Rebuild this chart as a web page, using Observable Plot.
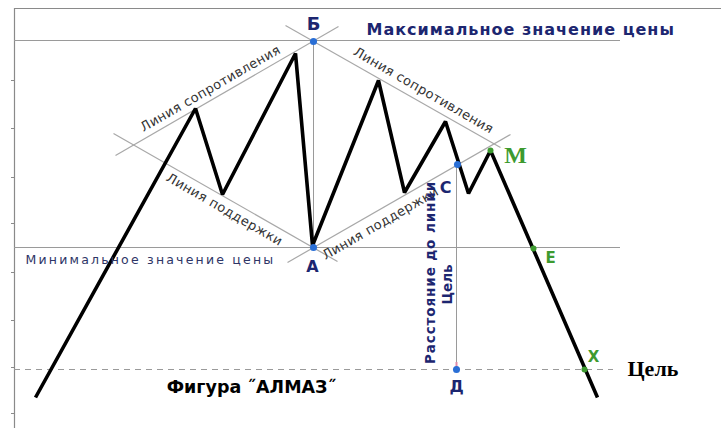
<!DOCTYPE html>
<html><head><meta charset="utf-8">
<script src="https://cdn.jsdelivr.net/npm/d3@7"></script>
<script src="https://cdn.jsdelivr.net/npm/@observablehq/plot@0.6"></script>
<style>html,body{margin:0;padding:0;background:#fff;}</style>
</head><body><div id="chart"></div>
<script>
// time (x) and price (y) values
const priceT = [35, 195, 222, 295, 312, 378, 404, 445, 468, 490, 597];
const priceP = [31, 320, 234, 375, 183, 348, 236, 307, 235, 278, 31];

const maxPrice = 388, minPrice = 181, targetPrice = 59;
const levelStart = 14, levelEnd = 620, targetEnd = 613;

const keyNames = ["Б", "А", "С", "Д", "M", "E", "X"];
const keyT = [313, 313, 457, 456, 490, 533, 584];
const keyP = [387, 181, 264, 59, 278, 180, 59];
const keyGroup = ["blue", "blue", "blue", "blue", "green", "green", "green"];

// trend lines
const trendNames = ["Линия сопротивления", "Линия поддержки", "Линия сопротивления", "Линия поддержки"];
const trendT1 = [115, 113, 285, 287];
const trendP1 = [273, 295, 403, 166];
const trendT2 = [338, 337, 500, 510];
const trendP2 = [402, 167, 281, 294];
const trendLabelT = [210, 224, 423, 380];
const trendLabelP = [340, 219, 338, 205];
const trendAngle = [-30, 30, 30, -30];

const vertT = [313, 456];
const vertP1 = [387, 264];
const vertP2 = [181, 59];

const frameTicks = [348, 300, 251, 205, 156, 108, 61, 15];

const keyLabelT = [313, 312, 445, 456, 515, 550, 593];
const keyLabelP = [404, 162, 241, 42, 273, 170, 71];

const W = 721, H = 428;
const navy = "#1c2670", green = "#3d9a2f", blue = "#2a6fd6", gray = "#9a9a9a";

const priceData = priceT.map((t, i) => ({t, p: priceP[i]}));
const keys = keyNames.map((n, i) => ({n, t: keyT[i], p: keyP[i], g: keyGroup[i], lt: keyLabelT[i], lp: keyLabelP[i]}));
const trends = trendNames.map((n, i) => ({n, t1: trendT1[i], p1: trendP1[i], t2: trendT2[i], p2: trendP2[i], lt: trendLabelT[i], lp: trendLabelP[i], a: trendAngle[i]}));
const levels = [maxPrice, minPrice].map(p => ({p, t1: levelStart, t2: levelEnd}));
const verts = vertT.map((t, i) => ({t, p1: vertP1[i], p2: vertP2[i]}));

const navyKeys = keys.filter(d => ["А","С","Д"].includes(d.n));
const big = keys.filter(d => d.n === "Б");

const chart = Plot.plot({
  width: W, height: H,
  margin: 0,
  x: {domain: [0, W], axis: null},
  y: {domain: [0, H], axis: null},
  style: {background: "#fff"},
  marks: [
    Plot.ruleX([levelStart], {y1: 0, y2: 420, stroke: "#8a8a8a", strokeWidth: 1.2}),
    Plot.ruleY([420], {x1: levelStart, x2: W, stroke: "#8a8a8a", strokeWidth: 1}),
    Plot.ruleY(frameTicks, {x1: 11, x2: levelStart, stroke: "#8a8a8a", strokeWidth: 1}),
    Plot.ruleY(levels, {y: "p", x1: "t1", x2: "t2", stroke: gray, strokeWidth: 1}),
    Plot.ruleY([targetPrice], {x1: levelStart, x2: targetEnd, stroke: gray, strokeWidth: 1, strokeDasharray: "6,5"}),
    Plot.ruleX(verts, {x: "t", y1: "p1", y2: "p2", stroke: gray, strokeWidth: 1}),
    Plot.ruleX([456], {y1: 60, y2: 66, stroke: "#e08aa8", strokeWidth: 2}),
    Plot.link(trends, {x1: "t1", y1: "p1", x2: "t2", y2: "p2", stroke: "#a8a8a8", strokeWidth: 1.2}),
    Plot.text(trends, {x: "lt", y: "lp", text: "n", rotate: "a", fontSize: 13, fill: "#333", fontFamily: "DejaVu Sans"}),
    Plot.line(priceData, {x: "t", y: "p", stroke: "#000", strokeWidth: 3.6, strokeLinejoin: "miter", strokeLinecap: "butt"}),
    Plot.dot(keys, {x: "t", y: "p", r: d => d.g === "blue" ? 5.5 : 4, fill: d => d.g === "blue" ? blue : green, stroke: "none"}),
    Plot.text(navyKeys, {x: "lt", y: "lp", text: "n", fill: navy, fontWeight: "bold", fontSize: 16, fontFamily: "DejaVu Sans"}),
    Plot.text(big, {x: "lt", y: "lp", text: "n", fill: navy, fontWeight: "bold", fontSize: 18, fontFamily: "DejaVu Sans"}),
    Plot.text(keys.filter(d => d.n === "M"), {x: "lt", y: "lp", text: "n", fill: green, fontWeight: "bold", fontSize: 24, fontFamily: "Liberation Serif"}),
    Plot.text(keys.filter(d => d.n === "E" || d.n === "X"), {x: "lt", y: "lp", text: "n", fill: green, fontWeight: "bold", fontSize: 15, fontFamily: "DejaVu Sans"}),
    Plot.text(["Максимальное значение цены"], {x: 366, y: 399, text: d => d, textAnchor: "start", fill: navy, fontWeight: "bold", fontSize: 16, fontFamily: "DejaVu Sans"}),
    Plot.text(["Минимальное значение цены"], {x: 25, y: 169, text: d => d, textAnchor: "start", fill: "#2e3566", fontSize: 12.5, fontFamily: "DejaVu Sans"}),
    Plot.text(["Фигура ˝АЛМАЗ˝"], {x: 251, y: 41, text: d => d, fill: "#000", fontWeight: "bold", fontSize: 17.5, fontFamily: "DejaVu Sans"}),
    Plot.text(["Цель"], {x: 627, y: 60, text: d => d, textAnchor: "start", fill: "#000", fontWeight: "bold", fontSize: 22, fontFamily: "Liberation Serif"}),
    Plot.text(["Расстояние до линии"], {x: 430, y: 156, text: d => d, rotate: -90, fill: navy, fontWeight: "bold", fontSize: 13.5, fontFamily: "DejaVu Sans"}),
    Plot.text(["Цель"], {x: 447, y: 144, text: d => d, rotate: -90, fill: navy, fontWeight: "bold", fontSize: 13.5, fontFamily: "DejaVu Sans"})
  ]
});
const spacing = {
  "Минимальное значение цены": 2.2,
  "Максимальное значение цены": 1,
  "Линия сопротивления": 0.4,
  "Линия поддержки": 0.4,
  "Расстояние до линии": 0.9
};
d3.select(chart).selectAll("text").each(function () {
  const s = spacing[this.textContent];
  if (s) this.setAttribute("letter-spacing", s);
});
document.getElementById("chart").appendChild(chart);
</script>
</body></html>
